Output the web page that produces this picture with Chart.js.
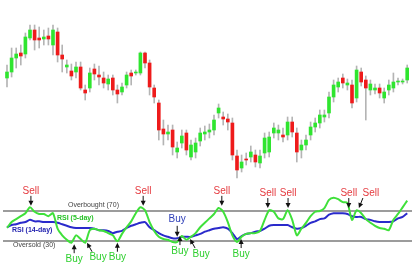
<!DOCTYPE html>
<html>
<head>
<meta charset="utf-8">
<title>Price and RSI</title>
<script src="https://cdn.jsdelivr.net/npm/chart.js@4.4.1/dist/chart.umd.min.js"></script>
<style>
  html, body { margin: 0; padding: 0; background: #fff; }
  #wrap { position: relative; width: 414px; height: 265px; }
  canvas { display: block; }
</style>
</head>
<body>
<div id="wrap"><canvas id="rsiChart" width="414" height="265"></canvas></div>
<script>
// trading days
const days = [0,1,2,3,4,5,6,7,8,9,10,11,12,13,14,15,16,17,18,19,20,21,22,23,24,25,26,27,28,29,
  30,31,32,33,34,35,36,37,38,39,40,41,42,43,44,45,46,47,48,49,50,51,52,53,54,55,56,57,58,59,
  60,61,62,63,64,65,66,67,68,69,70,71,72,73,74,75,76,77,78,79,80,81,82,83,84,85,86,87];

const opens = [122,128,142,147,146,162,170,162,161,164,155,168,145,133,129,128,133,110,112,131,
  125,122,116,122,110,108,115,127,127,127,147,137,112,97,71,66,70,48,57,67,
  43,48,59,66,68,70,87,83,81,77,44,32,41,43,45,37,47,48,67,67,
  65,65,78,67,50,55,65,73,77,83,87,103,113,122,115,115,102,128,120,110,
  110,112,102,110,112,118,118,120];
const closes = [128,142,146,144,163,170,160,160,163,161,170,145,141,135,124,133,112,107,127,126,
  123,117,121,110,106,113,125,124,128,147,137,113,103,70,66,68,53,52,64,50,
  55,57,67,68,70,80,92,81,78,45,30,38,40,48,38,44,62,63,72,70,
  63,78,68,48,55,60,73,77,85,85,103,115,118,117,117,97,130,118,112,116,
  112,107,108,115,118,119,119,132];
const highs = [135,152,152,155,167,175,175,173,170,172,175,172,155,140,136,138,138,115,132,136,
  134,128,125,125,115,117,128,130,130,148,148,140,115,100,80,75,75,58,70,70,
  60,62,72,74,76,85,96,88,86,82,50,45,47,54,50,50,67,68,77,75,
  72,83,83,72,60,65,78,82,90,90,108,120,122,126,121,120,134,132,124,120,
  116,116,112,120,127,122,121,135];
const lows = [113,123,132,135,142,160,150,152,155,155,145,138,128,127,120,122,110,100,108,120,
  115,112,110,105,97,105,112,115,125,125,132,105,97,60,55,60,45,42,52,45,
  40,42,54,60,62,65,82,75,70,40,22,28,35,38,33,32,42,43,62,60,
  58,60,63,38,42,50,60,68,72,78,82,98,108,112,110,92,98,114,80,105,
  106,102,97,105,108,115,116,117];

// RSI (5-day) and RSI (14-day)
const rsi5 = [47,55,59,63,67,75,69,66,66,63,67,46,37,31,27,37,32,27,44,46,
  44,43,40,37,29,39,48,56,67,75,71,55,43,35,32,31,28,28,36,31,
  35,40,48,54,60,66,74,69,55,37,28,35,39,40,40,43,58,71,69,60,
  59,71,58,37,46,54,63,69,70,74,85,88,86,82,81,58,71,67,59,54,
  50,47,46,44,58,66,75,84];
const rsi14 = [48,51,52,54,55,58,56,56,55,55,55,54,52,50,48,47,47,47,47,46,
  44,44,43,40,42,43,47,50,52,54,55,48,44,40,37,35,33,33,35,35,
  35,37,39,42,44,46,47,48,46,40,32,36,39,40,42,43,46,50,51,51,
  51,51,48,46,47,50,54,56,59,60,65,67,67,67,66,63,62,62,59,58,
  56,55,55,55,56,60,62,67];

const levels = [70, 30];
const levelNames = ['Overbought (70)', 'Oversold (30)'];

// signals: day and RSI level the arrow points at
const sellDays = [5.2, 29.6, 46.7, 56.7, 61.1, 74.3, 76.5];
const sellTips = [77, 77, 77, 74, 74, 74, 74];
const buyDays = [14.6, 17.4, 24, 37.6, 39.8, 50.9];
const buyTips = [25, 27, 27, 36, 32, 32];
const blueBuyDays = [37];
const blueBuyTips = [35];

const UP = '#2fe52f', DOWN = '#ee1b1b';
const bodyColors = opens.map((o, i) => closes[i] >= o ? UP : DOWN);

function arrow(ctx, x1, y1, x2, y2) {
  const a = Math.atan2(y2 - y1, x2 - x1);
  const c = Math.cos(a), s = Math.sin(a);
  ctx.beginPath();
  ctx.moveTo(x1, y1);
  ctx.lineTo(x2 - 3 * c, y2 - 3 * s);
  ctx.stroke();
  ctx.beginPath();
  ctx.moveTo(x2, y2);
  ctx.lineTo(x2 - 5 * c + 2.5 * s, y2 - 5 * s - 2.5 * c);
  ctx.lineTo(x2 - 5 * c - 2.5 * s, y2 - 5 * s + 2.5 * c);
  ctx.closePath();
  ctx.fill();
}

const rsiDecor = {
  id: 'rsiDecor',
  beforeDatasetsDraw(chart) {
    const { ctx, chartArea } = chart;
    const yR = chart.scales.yR;
    ctx.save();
    ctx.strokeStyle = '#9c9c9c';
    ctx.lineWidth = 2;
    levels.forEach(v => {
      const y = Math.round(yR.getPixelForValue(v));
      ctx.beginPath();
      ctx.moveTo(chartArea.left + 3, y);
      ctx.lineTo(chartArea.right - 2, y);
      ctx.stroke();
    });
    ctx.restore();
  },
  afterDatasetsDraw(chart) {
    const { ctx } = chart;
    const x = chart.scales.x, yR = chart.scales.yR;
    ctx.save();
    ctx.textBaseline = 'middle';

    // level and line names
    ctx.font = '7px "Liberation Sans", Arial, sans-serif';
    ctx.fillStyle = '#444';
    ctx.textAlign = 'left';
    ctx.fillText(levelNames[0], 68, yR.getPixelForValue(levels[0]) - 6);
    ctx.fillText(levelNames[1], 13, yR.getPixelForValue(levels[1]) + 5);
    ctx.font = 'bold 7px "Liberation Sans", Arial, sans-serif';
    ctx.fillStyle = '#27c227';
    ctx.fillText('RSI (5-day)', 57, 218);
    ctx.fillStyle = '#2424b0';
    ctx.fillText('RSI (14-day)', 12, 230);

    ctx.textAlign = 'center';
    ctx.font = '10px "Liberation Sans", Arial, sans-serif';
    ctx.strokeStyle = '#111';
    ctx.lineWidth = 1;

    sellDays.forEach((d, i) => {
      const px = x.getPixelForValue(d), py = yR.getPixelForValue(sellTips[i]);
      const lean = i === 6 ? 4 : 0;
      ctx.fillStyle = '#111';
      arrow(ctx, px + lean, py - 10, px, py);
      ctx.fillStyle = '#e53a3f';
      ctx.fillText('Sell', px + lean * 3, py - 15);
    });

    buyDays.forEach((d, i) => {
      const px = x.getPixelForValue(d), py = yR.getPixelForValue(buyTips[i]);
      const lean = (i === 1 || i === 4) ? 5 : 0;
      ctx.fillStyle = '#111';
      arrow(ctx, px + lean, py + 9, px, py);
      ctx.fillStyle = '#2fcf2f';
      ctx.fillText('Buy', px + lean * 2.2, py + 15);
    });

    blueBuyDays.forEach((d, i) => {
      const px = x.getPixelForValue(d), py = yR.getPixelForValue(blueBuyTips[i]);
      ctx.fillStyle = '#111';
      arrow(ctx, px, py - 11, px, py);
      ctx.fillStyle = '#3040b8';
      ctx.fillText('Buy', px, py - 18);
    });
    ctx.restore();
  }
};

new Chart(document.getElementById('rsiChart'), {
  type: 'bar',
  data: {
    labels: days,
    datasets: [
      {
        label: 'range',
        data: lows.map((l, i) => [l, highs[i]]),
        backgroundColor: '#b4b4b4',
        barThickness: 1,
        grouped: false,
        yAxisID: 'yP',
        order: 3
      },
      {
        label: 'body',
        data: opens.map((o, i) => [o, closes[i]]),
        backgroundColor: bodyColors,
        barThickness: 3,
        minBarLength: 1,
        grouped: false,
        yAxisID: 'yP',
        order: 2
      },
      {
        type: 'line',
        label: 'RSI (14-day)',
        data: rsi14,
        borderColor: '#2a2acb',
        borderWidth: 2,
        pointRadius: 0,
        tension: 0.25,
        yAxisID: 'yR',
        order: 1
      },
      {
        type: 'line',
        label: 'RSI (5-day)',
        data: rsi5,
        borderColor: '#3fe03a',
        borderWidth: 2,
        pointRadius: 0,
        tension: 0.25,
        yAxisID: 'yR',
        order: 0
      }
    ]
  },
  options: {
    responsive: false,
    animation: false,
    layout: { padding: 0 },
    scales: {
      x: { type: 'linear', min: -1.522, max: 88.478, offset: false, display: false },
      yP: { min: -65, max: 200, display: false },
      yR: { min: -3.2, max: 356.1, display: false }
    },
    plugins: {
      legend: { display: false },
      tooltip: { enabled: false }
    }
  },
  plugins: [rsiDecor]
});
</script>
</body>
</html>
